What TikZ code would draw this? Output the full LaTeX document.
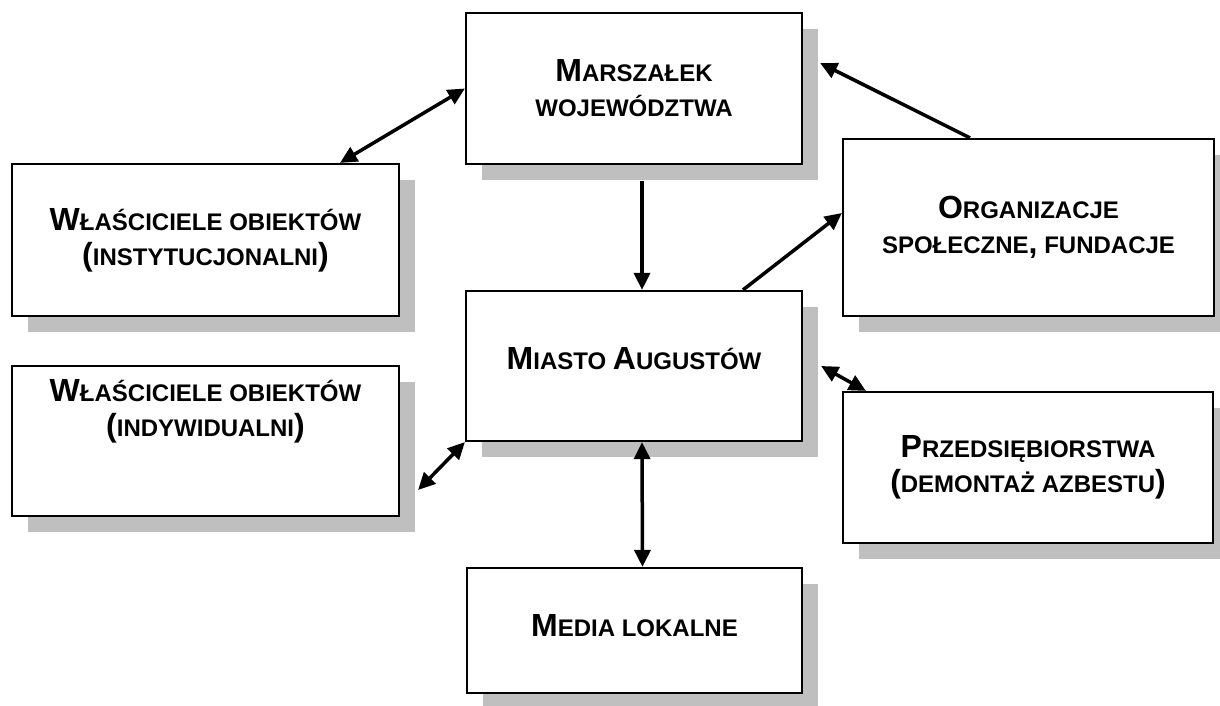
\documentclass[tikz,border=0pt]{standalone}
\usepackage{fontspec}
\setmainfont{Liberation Sans}
\newfontfamily\boldsans{Liberation Sans Bold}
\usetikzlibrary{arrows.meta,shadows}
\newcommand\Bg[1]{{\fontsize{32}{35}\selectfont #1}}
\tikzset{
  box/.style={draw=black, line width=2.2pt, fill=white, rectangle, inner sep=0pt,
    align=center, font=\boldsans\fontsize{24}{35}\selectfont,
    drop shadow={shadow xshift=16pt, shadow yshift=-16pt, fill=black!25, opacity=1}},
  conn/.style={line width=3.5pt, draw=black},
  >={Triangle[length=17pt,width=16pt]}
}
\begin{document}
\begin{tikzpicture}[x=1pt,y=-1pt]
\useasboundingbox (0,0) rectangle (1220,706);
\node[box, minimum width=336pt, minimum height=151pt] (mar) at (634,88.5)
  {\Bg{M}ARSZAŁEK\\WOJEWÓDZTWA};
\node[box, minimum width=387pt, minimum height=152pt] (inst) at (205.5,240)
  {\Bg{W}ŁAŚCICIELE OBIEKTÓW\\\Bg{(}INSTYTUCJONALNI\Bg{)}};
\node[box, minimum width=387pt, minimum height=150pt, text depth=66pt] (indy) at (205.5,441)
  {\Bg{W}ŁAŚCICIELE OBIEKTÓW\\\Bg{(}INDYWIDUALNI\Bg{)}};
\node[box, minimum width=336pt, minimum height=150pt, text depth=16pt] (mia) at (634,366)
  {\Bg{M}IASTO \Bg{A}UGUSTÓW};
\node[box, minimum width=371pt, minimum height=177pt] (org) at (1028.5,227.5)
  {\Bg{O}RGANIZACJE\\SPOŁECZNE\Bg{,} FUNDACJE};
\node[box, minimum width=370pt, minimum height=151pt] (prz) at (1028,467.5)
  {\Bg{P}RZEDSIĘBIORSTWA\\\Bg{(}DEMONTAŻ AZBESTU\Bg{)}};
\node[box, minimum width=335pt, minimum height=125pt, text depth=10pt] (med) at (634.5,630.5)
  {\Bg{M}EDIA LOKALNE};

\draw[conn,<->] (mar.west) -- ([xshift=134.5pt]inst.north);
\draw[conn,->] ([xshift=8pt,yshift=-16pt]mar.south) -- ([xshift=8pt]mia.north);
\draw[conn,->] ([xshift=-58.5pt]org.north) -- ([xshift=17pt,yshift=25.5pt]mar.east);
\draw[conn,->] ([xshift=109pt]mia.north) -- ([yshift=14.5pt]org.west);
\draw[conn,<->] ([xshift=18pt]mia.east) -- ([xshift=24pt]prz.north west);
\draw[conn,<->] (mia.south west) -- ([xshift=18pt,yshift=-49pt]indy.east);
\draw[conn,<->] ([xshift=8pt]mia.south) -- ([xshift=8pt]med.north);
\end{tikzpicture}
\end{document}
